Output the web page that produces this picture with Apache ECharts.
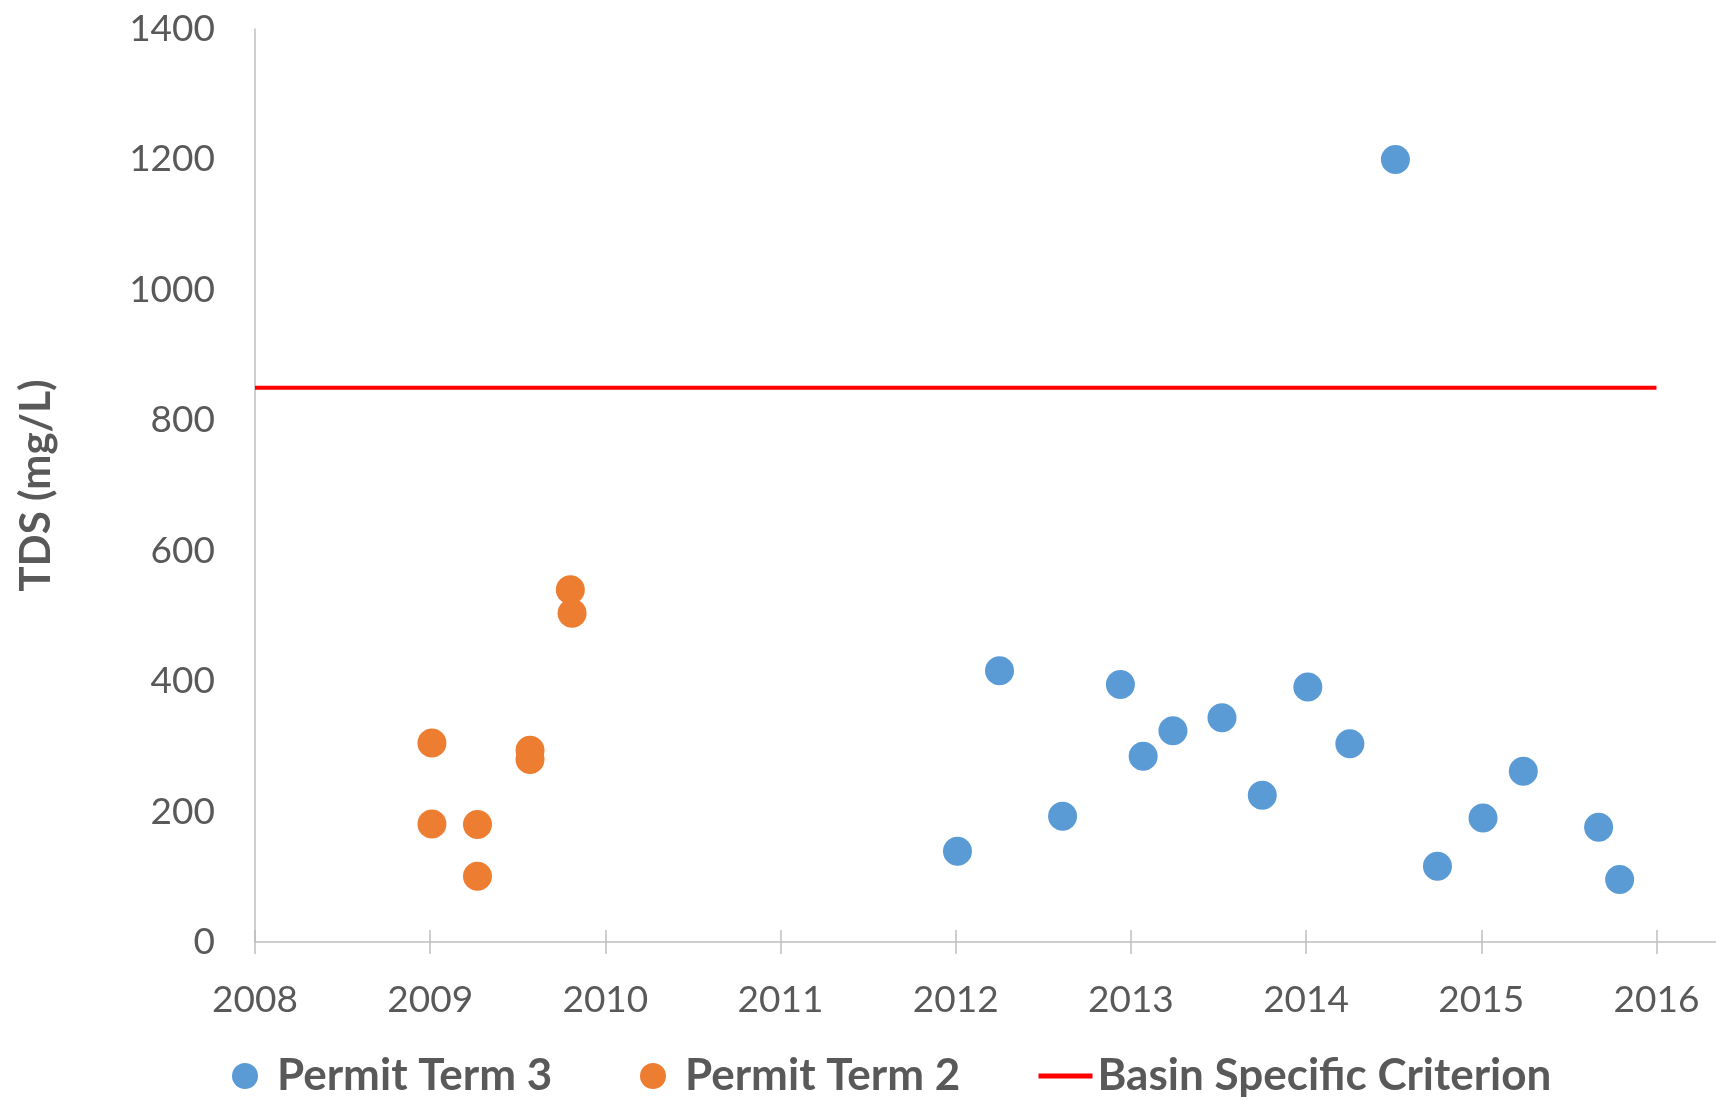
<!DOCTYPE html>
<html>
<head>
<meta charset="utf-8">
<script src="https://cdn.jsdelivr.net/npm/echarts@6/dist/echarts.min.js"></script>
<style>
  html, body { margin: 0; padding: 0; background: #fff; }
  #chart { width: 1716px; height: 1100px; }
</style>
</head>
<body>
<div id="chart"></div>
<script>
// data
var term3Dates = [2012.01, 2012.25, 2012.61, 2012.94, 2013.07, 2013.24, 2013.52, 2013.75, 2014.01, 2014.25, 2014.51, 2014.75, 2015.01, 2015.24, 2015.67, 2015.79];
var term3Tds   = [139, 416, 193, 395, 285, 324, 344, 225, 391, 304, 1200, 116, 190, 262, 176, 96];
var term2Dates = [2009.01, 2009.01, 2009.27, 2009.27, 2009.57, 2009.57, 2009.80, 2009.81];
var term2Tds   = [305, 181, 180, 101, 294, 280, 540, 504];
var criterionValue = 850;
var criterionRange = [2008, 2016];
var yearTicks = [2008, 2009, 2010, 2011, 2012, 2013, 2014, 2015, 2016];

function pairs(xs, ys) {
  var out = [];
  for (var i = 0; i < xs.length; i++) out.push([xs[i], ys[i]]);
  return out;
}
function plain(v) { return String(v); }

var FONT = 'Lato, "Open Sans", sans-serif';
var GREY = '#595959';

// one legend per entry so each can sit where it does in the original
function legendAt(left, item) {
  return {
    left: left,
    top: 1049,
    itemWidth: 54,
    itemHeight: 26,
    textStyle: { fontFamily: FONT, fontSize: 44, fontWeight: 'bold', color: GREY },
    data: [item]
  };
}

var myChart = echarts.init(document.getElementById('chart'));
var option = {
  animation: false,
  grid: { left: 255, right: 0, top: 29, bottom: 158 },
  legend: [
    legendAt(227, { name: 'Permit Term 3', icon: 'circle' }),
    legendAt(635, { name: 'Permit Term 2', icon: 'circle' }),
    legendAt(1031, { name: 'Basin Specific Criterion', itemStyle: { opacity: 0 }, lineStyle: { color: '#FF0000', width: 5, opacity: 1 } })
  ],
  xAxis: [
    {
      type: 'value',
      min: 2008,
      max: 2016.34,
      interval: 1,
      splitLine: { show: false },
      axisLine: { lineStyle: { color: '#BFBFBF', width: 1.5 } },
      axisTick: { show: true, length: 12, customValues: yearTicks, lineStyle: { color: '#BFBFBF', width: 1.5 } },
      axisLabel: { customValues: yearTicks, margin: 40, formatter: plain, fontFamily: FONT, fontSize: 37, color: GREY }
    },
    {
      // second copy only to get ticks crossing the axis line
      type: 'value',
      position: 'bottom',
      min: 2008,
      max: 2016.34,
      interval: 1,
      splitLine: { show: false },
      axisLine: { show: false },
      axisTick: { show: true, inside: true, length: 12, customValues: yearTicks, lineStyle: { color: '#BFBFBF', width: 1.5 } },
      axisLabel: { show: false }
    }
  ],
  yAxis: {
    type: 'value',
    min: 0,
    max: 1400,
    interval: 200,
    name: 'TDS (mg/L)',
    nameLocation: 'middle',
    nameGap: 198,
    nameTextStyle: { fontFamily: FONT, fontSize: 42, fontWeight: 'bold', color: GREY },
    splitLine: { show: false },
    axisLine: { show: true, lineStyle: { color: '#BFBFBF', width: 1.5 } },
    axisTick: { show: false },
    axisLabel: { margin: 40, formatter: plain, fontFamily: FONT, fontSize: 37, color: GREY }
  },
  series: [
    {
      name: 'Permit Term 3',
      type: 'scatter',
      symbolSize: 29,
      itemStyle: { color: '#5B9BD5', opacity: 1 },
      data: pairs(term3Dates, term3Tds)
    },
    {
      name: 'Permit Term 2',
      type: 'scatter',
      symbolSize: 29,
      itemStyle: { color: '#ED7D31', opacity: 1 },
      data: pairs(term2Dates, term2Tds)
    },
    {
      name: 'Basin Specific Criterion',
      type: 'line',
      symbol: 'none',
      lineStyle: { color: '#FF0000', width: 4 },
      itemStyle: { color: '#FF0000' },
      data: [[criterionRange[0], criterionValue], [criterionRange[1], criterionValue]]
    }
  ]
};
myChart.setOption(option);
window.onresize = myChart.resize;
</script>
</body>
</html>
